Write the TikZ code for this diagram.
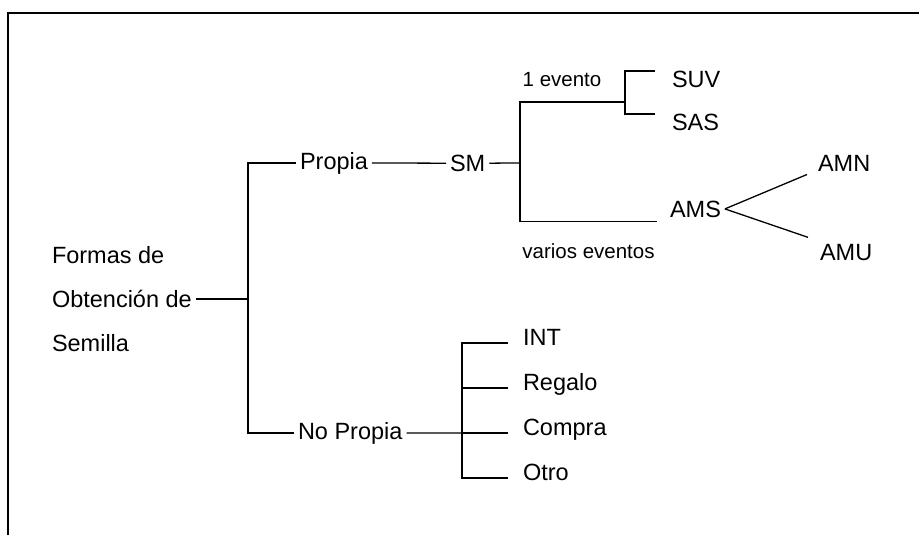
\documentclass[tikz,border=0pt]{standalone}
\usepackage{fontspec}
\setmainfont{Liberation Sans}

\begin{document}
\begin{tikzpicture}[
    x=1pt, y=-1pt,
    every node/.style={
        inner xsep=4pt,
        inner ysep=0pt,
        outer sep=0pt
    },
    item/.style={
        anchor=base west,
        font=\fontsize{23.5}{28}\selectfont
    },
    note/.style={
        font=\fontsize{20.5}{24}\selectfont
    },
    link/.style={
        line width=1.3pt
    },
    frame/.style={
        line width=2pt
    }
]

\useasboundingbox (0,0) rectangle (919,535);

\draw[frame] (919,13) -- (8,13) -- (8,535);

\node[item, anchor=west, align=left, font=\fontsize{23.5}{44}\selectfont] (forms) at (48,299) {Formas de\\Obtención de\\Semilla};

\coordinate (rootfork) at (248,299);
\coordinate (smfork) at (520,162.9);
\coordinate (evfork) at (625,102);
\coordinate (npfork) at (462,433);

\node[item] (propia) at (296,169) {Propia};
\node[item] (nopropia) at (294,439) {No Propia};

\node[item] (sm) at (446,171.3) {SM};

\node[item] (suv) at (668,87.4) {SUV};
\node[item] (sas) at (668,130.4) {SAS};

\node[item] (ams) at (666,217) {AMS};
\node[item] (amn) at (814,171.5) {AMN};
\node[item] (amu) at (816,260.5) {AMU};

\node[item] (int) at (519,345.4) {INT};
\node[item] (regalo) at (519,390.4) {Regalo};
\node[item] (compra) at (519,435.4) {Compra};
\node[item] (otro) at (519,480.4) {Otro};

\draw[link] (forms.east) -- (rootfork);
\draw[link] (rootfork) |- (propia.west);
\draw[link] (rootfork) |- (nopropia.west);

\draw[link] (propia.east) -- (sm.west);
\draw[link] (sm.east) -- (smfork);

\draw[link] (smfork) |- node[note, pos=0.7, above=15pt]{1 evento} (evfork);
\draw[link] (smfork) |- node[note, pos=0.75, below=22pt]{varios eventos} ([xshift=-9pt,yshift=-4pt]ams.south west);

\draw[link] (evfork) |- ([xshift=-13pt]suv.north west);
\draw[link] (evfork) |- ([xshift=-13pt]sas.north west);

\draw[link] (ams.east) -- ([xshift=-7pt,yshift=-3pt]amn.south west);
\draw[link] (ams.east) -- ([xshift=-8pt,yshift=7pt]amu.north west);

\draw[link] (nopropia.east) -- (npfork);
\draw[link] (npfork) |- ([xshift=-11pt,yshift=2.4pt]int.base west);
\draw[link] (npfork) |- ([xshift=-11pt,yshift=2.4pt]regalo.base west);
\draw[link] (npfork) |- ([xshift=-11pt,yshift=2.4pt]compra.base west);
\draw[link] (npfork) |- ([xshift=-11pt,yshift=2.4pt]otro.base west);

\end{tikzpicture}
\end{document}
